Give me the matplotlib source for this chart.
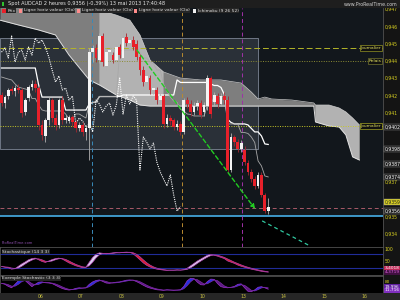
import numpy as np
import pandas as pd
import matplotlib
matplotlib.use('Agg')
import matplotlib.pyplot as plt
from matplotlib.patches import Rectangle

# AUDCAD, bougies 2 heures
opens = [0.94203, 0.94157, 0.94197, 0.94238, 0.94226, 0.94243, 0.94232, 0.94105, 0.94186, 0.94249,
         0.94267, 0.94243, 0.94030, 0.93966, 0.94058, 0.94174, 0.94070, 0.94030, 0.94174, 0.94058,
         0.94053, 0.94076, 0.94047, 0.94012, 0.94030, 0.93989, 0.94012, 0.94451, 0.94475, 0.94405,
         0.94544, 0.94371, 0.94451, 0.94434, 0.94405, 0.94480, 0.94417, 0.94538, 0.94503, 0.94521,
         0.94498, 0.94423, 0.94347, 0.94278, 0.94301, 0.94232, 0.94232, 0.94174, 0.94197, 0.94035,
         0.94070, 0.94058, 0.94018, 0.94035, 0.93989, 0.94174, 0.94151, 0.94105, 0.94139, 0.94157,
         0.94105, 0.94139, 0.94301, 0.94162, 0.94197, 0.94151, 0.94197, 0.94174, 0.93769, 0.93960,
         0.93931, 0.93891, 0.93885, 0.93810, 0.93758, 0.93717, 0.93677, 0.93741, 0.93625, 0.93535]
closes = [0.94157, 0.94191, 0.94232, 0.94226, 0.94243, 0.94232, 0.94099, 0.94174, 0.94249, 0.94267,
          0.94243, 0.94030, 0.93972, 0.94058, 0.94174, 0.94070, 0.94030, 0.94174, 0.94058, 0.94070,
          0.94076, 0.94047, 0.94012, 0.94030, 0.93989, 0.94012, 0.94451, 0.94475, 0.94417, 0.94544,
          0.94394, 0.94451, 0.94463, 0.94405, 0.94480, 0.94434, 0.94532, 0.94503, 0.94521, 0.94480,
          0.94423, 0.94347, 0.94278, 0.94313, 0.94232, 0.94243, 0.94174, 0.94197, 0.94035, 0.94070,
          0.94053, 0.94018, 0.94035, 0.93989, 0.94174, 0.94151, 0.94105, 0.94139, 0.94157, 0.94087,
          0.94145, 0.94301, 0.94093, 0.94203, 0.94151, 0.94197, 0.94174, 0.93769, 0.93960, 0.93931,
          0.93891, 0.93925, 0.93816, 0.93758, 0.93717, 0.93677, 0.93741, 0.93625, 0.93532, 0.93558]
highs = [0.94220, 0.94203, 0.94243, 0.94255, 0.94261, 0.94267, 0.94243, 0.94186, 0.94261, 0.94290,
         0.94290, 0.94255, 0.94058, 0.94070, 0.94191, 0.94186, 0.94093, 0.94186, 0.94197, 0.94087,
         0.94087, 0.94087, 0.94058, 0.94047, 0.94047, 0.94030, 0.94475, 0.94492, 0.94498, 0.94561,
         0.94561, 0.94475, 0.94486, 0.94451, 0.94498, 0.94498, 0.94579, 0.94561, 0.94544, 0.94544,
         0.94521, 0.94440, 0.94371, 0.94336, 0.94319, 0.94267, 0.94249, 0.94214, 0.94209, 0.94093,
         0.94087, 0.94070, 0.94058, 0.94053, 0.94186, 0.94191, 0.94174, 0.94162, 0.94174, 0.94174,
         0.94162, 0.94319, 0.94313, 0.94220, 0.94214, 0.94214, 0.94220, 0.94197, 0.93983, 0.93972,
         0.93949, 0.93943, 0.93908, 0.93827, 0.93775, 0.93735, 0.93758, 0.93758, 0.93636, 0.93608]
lows = [0.94139, 0.94128, 0.94180, 0.94209, 0.94197, 0.94214, 0.94076, 0.94087, 0.94168, 0.94232,
        0.94220, 0.94001, 0.93943, 0.93931, 0.94030, 0.94047, 0.94001, 0.94012, 0.94035, 0.94041,
        0.94041, 0.94024, 0.93989, 0.93995, 0.93966, 0.93943, 0.93827, 0.94394, 0.94394, 0.94388,
        0.94371, 0.94347, 0.94428, 0.94388, 0.94394, 0.94417, 0.94405, 0.94486, 0.94492, 0.94463,
        0.94405, 0.94319, 0.94255, 0.94261, 0.94209, 0.94209, 0.94151, 0.94151, 0.94012, 0.94018,
        0.94030, 0.94001, 0.94001, 0.93972, 0.93978, 0.94128, 0.94082, 0.94087, 0.94116, 0.94070,
        0.94082, 0.94116, 0.94070, 0.94139, 0.94128, 0.94139, 0.94151, 0.93752, 0.93758, 0.93908,
        0.93873, 0.93873, 0.93798, 0.93741, 0.93700, 0.93660, 0.93665, 0.93613, 0.93521, 0.93515]

# debut des lignes ichimoku (dependent des bougies avant l'ecran)
kijun_head = [0.94359] * 11 + [0.94261] + [0.94191] * 7 + [0.94116] * 7
tenkan_head = [0.94307, 0.94301, 0.94295, 0.94290, 0.94267, 0.94249, 0.94243, 0.94238, 0.94232]

# nuage ichimoku (projete de 26 periodes)
cloud_x = [-0.5, 5, 11, 16, 20, 26, 29, 34, 38, 41, 44, 48, 53, 59, 65, 71, 74, 76, 78, 80,
           86, 92.5, 93, 97, 100, 102, 104, 106]
cloud_a = [0.9475, 0.9475, 0.9475, 0.9475, 0.9475, 0.9475, 0.94694, 0.94665, 0.94636, 0.94550,
           0.94405, 0.94336, 0.94301, 0.94290, 0.94290, 0.94272, 0.94220, 0.94180, 0.94191, 0.94180,
           0.94174, 0.94157, 0.94145, 0.94145, 0.94128, 0.94105, 0.94070, 0.94030]
cloud_b = [0.94636, 0.94608, 0.94579, 0.94550, 0.94434, 0.94290, 0.94261, 0.94203, 0.94174, 0.94145,
           0.94139, 0.94139, 0.94139, 0.94139, 0.94139, 0.94139, 0.94139, 0.94139, 0.94139, 0.94139,
           0.94139, 0.94139, 0.94047, 0.94024, 0.94018, 0.93972, 0.93845, 0.93827]
cloud_light = [0, 0, 0, 0, 0, 0, 1, 1, 1, 1, 1, 1, 0, 0, 0, 0, 0, 0, 0, 0,
               0, 0, 1, 1, 1, 1, 1, 1]

# stochastiques
stoch_k = [27, 24, 22, 16, 18, 28, 38, 46, 55, 60, 62, 55, 48, 44, 50, 56, 60, 62, 58, 50,
           42, 36, 30, 26, 22, 24, 45, 65, 78, 84, 82, 80, 82, 84, 85, 84, 86, 87, 86, 80,
           68, 55, 42, 32, 25, 20, 16, 14, 12, 11, 12, 12, 13, 12, 14, 20, 30, 40, 50, 58,
           66, 74, 78, 74, 70, 65, 60, 50, 45, 40, 33, 28, 24, 20, 16, 13, 10, 7, 5, 3.4]
stoch2_k = [62, 55, 40, 30, 55, 80, 86, 82, 60, 38, 55, 70, 72, 66, 64, 60, 48, 36, 25, 18,
            14, 18, 26, 30, 28, 30, 55, 72, 82, 86, 75, 64, 62, 66, 70, 72, 78, 84, 86, 84,
            74, 62, 48, 36, 28, 22, 16, 14, 12, 16, 14, 12, 14, 16, 40, 80, 98, 96, 70, 52,
            50, 75, 92, 90, 60, 38, 32, 30, 34, 40, 55, 58, 30, 5, 2, 15, 34, 38, 30, 20]

# axe des dates
day_pos = [11.5, 23.5, 35.5, 47.5, 59.5, 71.5, 83.5, 95.5, 107.5]
day_lab = ['06', '07', '08', '09', '10', '13', '14', '15', '16']

# lignes horizontales et objets traces
levels = [(0.94475, 'Journalier', '#b4b428', (0, (6, 3))),
          (0.94400, 'Relais', '#8c8c34', (0, (1, 1.5))),
          (0.94024, 'Journalier', '#c8c828', (0, (1, 1.5)))]
pink_level = 0.93550
blue_level = 0.93505
zone_x = [-0.5, 76]
zone_y = [0.93891, 0.94532]
events = [(26.8, '#3a8ab8'), (53.5, '#b88a30'), (71.3, '#a030a8')]
arrow_x = [40.1, 75.1]
arrow_y = [0.94463, 0.93544]
trend_x = [77.2, 91.4]
trend_y = [0.93475, 0.93330]

price_ticks = [0.947, 0.946, 0.945, 0.944, 0.943, 0.942, 0.941, 0.937, 0.935, 0.934]
boxed = [(0.94018, '0,9402', '#1a1a1a', 'white'), (0.93891, '0,9398', '#1a1a1a', 'white'),
         (0.93804, '0,9387', '#1a1a1a', 'white'), (0.93729, '0,9374', '#1a1a1a', 'white'),
         (0.93584, '0,9359', '#d8d020', '#202020'), (0.93532, '0,9356', '#1a1a1a', 'white')]

BG = '#12171c'
YEL = '#d8d020'

xs = np.arange(len(closes))
o = np.array(opens)
c = np.array(closes)
h = np.array(highs)
l = np.array(lows)

fig = plt.figure(figsize=(4, 3), dpi=100, facecolor='#141414')
ax = fig.add_axes([0, 53 / 300, 383 / 400, 239 / 300])
ax.set_facecolor(BG)
ax.set_xlim(-0.45, 113)
ax.set_ylim(0.93324, 0.94706)

# zone sous la ligne bleue
ax.axhspan(0.93, blue_level, color='black', zorder=0.2)
ax.add_patch(Rectangle((zone_x[0], zone_y[0]), zone_x[1] - zone_x[0], zone_y[1] - zone_y[0],
                       fc='#2a3038', ec='#7c8494', lw=0.6, zorder=0.3))

# nuage
ca = np.array(cloud_a)
cb = np.array(cloud_b)
ax.fill_between(cloud_x, ca, cb, color='#7e7e7e', lw=0, zorder=1)
ax.fill_between(cloud_x, ca, cb, where=np.array(cloud_light) > 0, color='#b2b2b2', lw=0, zorder=1.1)
ax.plot(cloud_x, cb, color='#e0e0e0', lw=0.7, zorder=1.2)
ax.plot(cloud_x, ca, color='#c8c8c8', lw=0.5, zorder=1.2)

# tenkan / kijun / chikou
hs = pd.Series(h)
ls = pd.Series(l)
tenkan = ((hs.rolling(9).max() + ls.rolling(9).min()) / 2).to_numpy()
kijun = ((hs.rolling(26).max() + ls.rolling(26).min()) / 2).to_numpy()
tenkan[:len(tenkan_head)] = tenkan_head
kijun[:len(kijun_head)] = kijun_head
ax.plot(xs, kijun, color='white', lw=0.9, zorder=2)
ax.plot(xs, tenkan, color='#a8a8a8', lw=0.6, zorder=2)
ax.plot(xs[:-26], c[26:], color='white', lw=0.8, ls=(0, (1, 1)), zorder=2)

# niveaux
for val, name, col, sty in levels:
    ax.axhline(val, color=col, lw=0.7, ls=sty, zorder=1.5)
    ax.text(112.5, val, name, ha='right', va='center', fontsize=3.2, color='#e0e060',
            bbox=dict(boxstyle='square,pad=0.15', fc='#101010', ec=col, lw=0.4), zorder=6)
ax.axhline(pink_level, color='#a85a68', lw=0.7, ls=(0, (4, 3)), zorder=1.5)
ax.axhline(blue_level, color='#48b0e8', lw=1.2, zorder=1.5)
for ex, col in events:
    ax.axvline(ex, color=col, lw=0.7, ls=(0, (4, 3)), zorder=1.5)

# bougies
up = c >= o
ax.vlines(xs[up], l[up], h[up], color='#b0b0b0', lw=0.6, zorder=3)
ax.vlines(xs[~up], l[~up], h[~up], color='#a02830', lw=0.6, zorder=3)
body = np.maximum(np.abs(c - o), 0.00002)
ax.bar(xs, body, bottom=np.minimum(o, c), width=0.8,
       color=np.where(up, '#f4f4f4', '#e8202a'), lw=0, zorder=4)

# lignes de tendance
ax.annotate('', xy=(arrow_x[1], arrow_y[1]), xytext=(arrow_x[0], arrow_y[0]),
            arrowprops=dict(arrowstyle='-|>', color='#22cc22', lw=1.0, ls=(0, (3, 2)),
                            mutation_scale=6, shrinkA=0, shrinkB=0), zorder=5)
ax.plot(trend_x, trend_y, color='#30c8a0', lw=0.9, ls=(0, (3, 2.5)), zorder=5)

ax.set_xticks([])
ax.yaxis.tick_right()
ax.set_yticks(price_ticks)
ax.set_yticklabels([('%.3f' % v).replace('.', ',') for v in price_ticks])
ax.tick_params(axis='y', length=0, pad=1.2, labelsize=3.3, labelcolor=YEL)
for s in ['top', 'left', 'bottom']:
    ax.spines[s].set_visible(False)
ax.spines['right'].set_color('#505050')
ax.spines['right'].set_linewidth(0.6)
tr = ax.get_yaxis_transform()
for val, txt, fc, tc in boxed:
    ax.text(1.004, val, txt, transform=tr, ha='left', va='center', fontsize=3.3, color=tc,
            bbox=dict(boxstyle='square,pad=0.12', fc=fc, ec='#909090', lw=0.3), clip_on=False)
ax.text(0.004, 0.012, 'ProRealTime.com', transform=ax.transAxes, fontsize=2.6, color='#9050b0')

# stochastique (14 3 3)
k = pd.Series(stoch_k, dtype=float)
d = k.rolling(3, min_periods=1).mean()
ax2 = fig.add_axes([0, 25 / 300, 383 / 400, 28 / 300])
ax2.set_facecolor('black')
ax2.set_xlim(ax.get_xlim())
ax2.set_ylim(-8.3, 108.3)
ax2.axhline(80, color='#202c98', lw=0.8)
ax2.axhline(20, color='#202c98', lw=0.8)
ax2.fill_between(xs, k, d, where=k >= d, interpolate=True, color='#dcd4f0', lw=0)
ax2.fill_between(xs, k, d, where=k < d, interpolate=True, color='#e0202c', lw=0)
ax2.plot(xs, k, color='#b040b0', lw=0.5)
ax2.plot(xs, d, color='#b040b0', lw=0.5)
ax2.set_xticks([])
ax2.yaxis.tick_right()
ax2.set_yticks([100, 50])
ax2.set_yticklabels(['100', '50'])
ax2.tick_params(axis='y', length=0, pad=1.2, labelsize=3.3, labelcolor=YEL)
tr2 = ax2.get_yaxis_transform()
ax2.text(1.004, 20, '3,4018', transform=tr2, fontsize=3.1, color='white', va='center',
         bbox=dict(boxstyle='square,pad=0.1', fc='#c02858', ec='none'), clip_on=False)
ax2.text(1.004, 3, '4,3719', transform=tr2, fontsize=3.1, color='#e060e0', va='center',
         bbox=dict(boxstyle='square,pad=0.1', fc='#401040', ec='none'), clip_on=False)
ax2.text(0.006, 0.9, 'Stochastique (14 3 3)', transform=ax2.transAxes, fontsize=3.2, color='#e0e0e0',
         va='top', bbox=dict(boxstyle='square,pad=0.15', fc='#262626', ec='none'))

# stochastique (3 3 3)
k2 = pd.Series(stoch2_k, dtype=float)
d2 = k2.rolling(3, min_periods=1).mean()
ax3 = fig.add_axes([0, 7 / 300, 383 / 400, 17 / 300])
ax3.set_facecolor('black')
ax3.set_xlim(ax.get_xlim())
ax3.set_ylim(-7, 114)
ax3.fill_between(xs, k2, d2, where=k2 >= d2, interpolate=True, color='#2430e0', lw=0)
ax3.fill_between(xs, k2, d2, where=k2 < d2, interpolate=True, color='#5a1a80', lw=0)
ax3.plot(xs, k2, color='#9a30c8', lw=0.5)
ax3.plot(xs, d2, color='#7a2aa8', lw=0.5)
ax3.set_xticks([])
ax3.set_yticks([])
tr3 = ax3.get_yaxis_transform()
ax3.text(1.004, 70, '80', transform=tr3, fontsize=3.1, color=YEL, va='center', clip_on=False)
ax3.text(1.004, 38, '19,996', transform=tr3, fontsize=3.1, color='white', va='center',
         bbox=dict(boxstyle='square,pad=0.1', fc='#6020a0', ec='none'), clip_on=False)
ax3.text(1.004, 12, '11,716', transform=tr3, fontsize=3.1, color='white', va='center',
         bbox=dict(boxstyle='square,pad=0.1', fc='#8030c0', ec='none'), clip_on=False)
ax3.text(0.006, 0.98, 'Exemple Stochastic (3 3 3)', transform=ax3.transAxes, fontsize=3.2,
         color='#e0e0e0', va='top', bbox=dict(boxstyle='square,pad=0.15', fc='#262626', ec='none'))

# bandeau des dates
ax4 = fig.add_axes([0, 0, 1, 7 / 300])
ax4.set_xlim(-0.45, -0.45 + 113.45 * 400 / 383)
ax4.set_ylim(0, 1)
ax4.axis('off')
ax4.add_patch(Rectangle((0, 0), 1, 1, transform=ax4.transAxes, fc='#262626', ec='none'))
for p, lab in zip(day_pos, day_lab):
    ax4.text(p, 0.5, lab, ha='center', va='center', fontsize=3.3, color='#c8c040')

for a in (ax2, ax3):
    for s in a.spines.values():
        s.set_color('#505050')
        s.set_linewidth(0.6)

# en-tete
fig.patches.append(Rectangle((0, 292 / 300), 1, 8 / 300, transform=fig.transFigure,
                             fc='#1e1e1e', ec='none'))
fig.patches.append(Rectangle((0.005, 1 - 6 / 300), 0.005, 4 / 300, transform=fig.transFigure,
                             fc='#30c030', ec='none'))
fig.text(0.02, 1 - 3.8 / 300, 'Spot AUDCAD 2 heures 0,9356 (-0,39%) 13 mai 2013 17:40:48',
         fontsize=3.6, color='#e8e8e8', va='center')
fig.text(0.995, 1 - 4 / 300, 'www.ProRealTime.com', fontsize=3.4, color='#d0d0d0',
         va='center', ha='right')
legend = [('Prix', '#e8202a', 0.004), ('Ligne horiz valeur (Clo)', '#ff8c8c', 0.045),
          ('Ligne horiz valeur (Clo)', '#ff8c8c', 0.19), ('Ligne horiz valeur (Clo)', '#ff8c8c', 0.333),
          ('Ichimoku (9 26 52)', '#f0f0f0', 0.48)]
for txt, col, xf in legend:
    fig.text(xf + 0.014, 1 - 10.5 / 300, txt, fontsize=3.2, color='#e0e0e0', va='center',
             bbox=dict(boxstyle='square,pad=0.2', fc='#262626', ec='none'))
    fig.patches.append(Rectangle((xf + 0.002, 1 - 12.5 / 300), 0.008, 4 / 300,
                                 transform=fig.transFigure, fc=col, ec='none', zorder=5))

fig.savefig('out.png', dpi=100, facecolor=fig.get_facecolor())
